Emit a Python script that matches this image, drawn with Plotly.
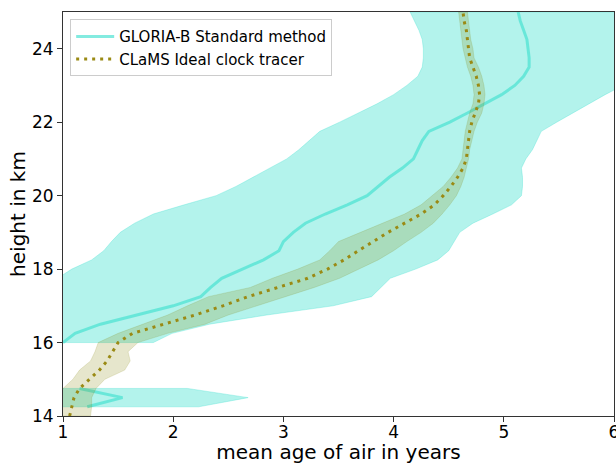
import plotly.graph_objects as go

# ---------------- data ----------------
# GLORIA-B standard method (lower isolated segment)
gloria_h_low = [14.25, 14.5, 14.75]
gloria_mean_low = [1.22, 1.54, 1.15]
gloria_left_low = [0.70, 0.50, 0.70]
gloria_right_low = [2.23, 2.68, 2.13]

# GLORIA-B standard method (main segment)
gloria_h = [16.0, 16.25, 16.5, 16.75, 17.0, 17.25, 17.5, 17.75, 18.0, 18.25, 18.5, 18.75,
            19.0, 19.25, 19.5, 19.75, 20.0, 20.25, 20.5, 20.75, 21.0, 21.25, 21.5, 21.75,
            22.0, 22.25, 22.5, 22.75, 23.0, 23.25, 23.5, 23.75, 24.0, 24.25, 24.5, 24.75, 25.0]
gloria_mean = [1.00, 1.11, 1.34, 1.68, 2.00, 2.25, 2.34, 2.44, 2.63, 2.82, 2.96, 3.00,
               3.09, 3.20, 3.38, 3.58, 3.76, 3.86, 3.96, 4.08, 4.18, 4.22, 4.26, 4.32,
               4.51, 4.67, 4.83, 4.98, 5.10, 5.18, 5.23, 5.23, 5.22, 5.21, 5.18, 5.15, 5.13]
gloria_left = [0.60, 0.62, 0.65, 0.70, 0.75, 0.82, 0.88, 0.95, 1.08, 1.26, 1.37, 1.44,
               1.52, 1.65, 1.82, 2.10, 2.39, 2.57, 2.72, 2.88, 3.03, 3.14, 3.23, 3.33,
               3.51, 3.68, 3.85, 4.00, 4.12, 4.22, 4.26, 4.27, 4.27, 4.26, 4.23, 4.19, 4.15]
gloria_right = [1.82, 1.99, 2.33, 2.85, 3.45, 3.80, 3.88, 3.97, 4.20, 4.40, 4.50, 4.55,
                4.60, 4.72, 4.90, 5.07, 5.16, 5.17, 5.17, 5.16, 5.20, 5.26, 5.30, 5.34,
                5.48, 5.63, 5.77, 5.92, 6.08, 6.22, 6.35, 6.45, 6.55, 6.62, 6.68, 6.72, 6.75]

# CLaMS ideal clock tracer
clams_h = [14.0, 14.25, 14.5, 14.75, 15.0, 15.25, 15.5, 15.75, 16.0, 16.25, 16.5, 16.75,
           17.0, 17.25, 17.5, 17.75, 18.0, 18.25, 18.5, 18.75, 19.0, 19.25, 19.5, 19.75,
           20.0, 20.25, 20.5, 20.75, 21.0, 21.25, 21.5, 21.75, 22.0, 22.25, 22.5, 22.75,
           23.0, 23.25, 23.5, 23.75, 24.0, 24.25, 24.5, 24.75, 25.0]
clams_mean = [1.06, 1.08, 1.10, 1.15, 1.24, 1.33, 1.40, 1.45, 1.50, 1.63, 1.92, 2.20,
              2.45, 2.68, 2.95, 3.22, 3.40, 3.55, 3.68, 3.81, 3.95, 4.10, 4.25, 4.37,
              4.45, 4.52, 4.58, 4.63, 4.66, 4.67, 4.68, 4.69, 4.71, 4.74, 4.77, 4.78,
              4.77, 4.75, 4.72, 4.69, 4.68, 4.67, 4.66, 4.64, 4.63]
clams_left = [0.95, 0.96, 0.97, 1.00, 1.09, 1.15, 1.25, 1.29, 1.32, 1.50, 1.72, 1.95,
              2.13, 2.32, 2.70, 2.90, 3.13, 3.33, 3.42, 3.50, 3.70, 3.90, 4.10, 4.25,
              4.35, 4.45, 4.52, 4.58, 4.62, 4.63, 4.64, 4.65, 4.67, 4.69, 4.72, 4.73,
              4.72, 4.70, 4.67, 4.65, 4.63, 4.62, 4.61, 4.60, 4.59]
clams_right = [1.25, 1.26, 1.26, 1.30, 1.38, 1.56, 1.61, 1.59, 1.68, 1.95, 2.29, 2.50,
               2.75, 3.02, 3.28, 3.51, 3.68, 3.86, 4.00, 4.12, 4.25, 4.36, 4.44, 4.51,
               4.57, 4.61, 4.64, 4.66, 4.68, 4.69, 4.71, 4.73, 4.76, 4.80, 4.82, 4.83,
               4.82, 4.80, 4.77, 4.73, 4.72, 4.70, 4.69, 4.68, 4.67]

x_ticks = [1, 2, 3, 4, 5, 6]
y_ticks = [14, 16, 18, 20, 22, 24]

TURQ_FILL = "rgba(64,224,208,0.4)"
TURQ_LINE = "rgba(64,224,208,0.65)"
OLIVE_FILL = "rgba(128,128,0,0.2)"
OLIVE_LINE = "#9a8a14"


def band(left, right, h):
    xs = list(left) + list(right)[::-1] + [left[0]]
    ys = list(h) + list(h)[::-1] + [h[0]]
    return xs, ys


fig = go.Figure()

# GLORIA bands
for lft, rgt, hh in [(gloria_left_low, gloria_right_low, gloria_h_low),
                     (gloria_left, gloria_right, gloria_h)]:
    bx, by = band(lft, rgt, hh)
    fig.add_trace(go.Scatter(x=bx, y=by, mode="lines", fill="toself",
                             fillcolor=TURQ_FILL, line=dict(width=0.8, color="rgba(64,224,208,0.4)"),
                             showlegend=False, hoverinfo="skip"))

# GLORIA mean line (with gap)
g_x = gloria_mean_low + [None] + gloria_mean
g_y = gloria_h_low + [None] + gloria_h
fig.add_trace(go.Scatter(x=g_x, y=g_y, mode="lines", connectgaps=False,
                         line=dict(color=TURQ_LINE, width=3),
                         name="GLORIA-B Standard method"))

# CLaMS band
bx, by = band(clams_left, clams_right, clams_h)
fig.add_trace(go.Scatter(x=bx, y=by, mode="lines", fill="toself",
                         fillcolor=OLIVE_FILL, line=dict(width=0.8, color="rgba(128,128,0,0.2)"),
                         showlegend=False, hoverinfo="skip"))

# CLaMS line
fig.add_trace(go.Scatter(x=clams_mean, y=clams_h, mode="lines",
                         line=dict(color=OLIVE_LINE, width=3, dash="3px,5px"),
                         name="CLaMS Ideal clock tracer"))

axis_common = dict(showline=True, linecolor="#333333", linewidth=1, mirror=True,
                   ticks="outside", ticklen=5, tickwidth=1, tickcolor="#333333",
                   showgrid=False, zeroline=False, automargin=False,
                   ticklabeloverflow="allow",
                   tickfont=dict(family="DejaVu Sans", size=17, color="black"))

fig.update_xaxes(range=[1, 6], tickvals=x_ticks, ticktext=[str(v) for v in x_ticks],
                 ticklabelstandoff=-4,
                 title=dict(text="mean age of air in years", standoff=4,
                            font=dict(family="DejaVu Sans", size=20, color="black")),
                 **axis_common)
fig.update_yaxes(range=[14, 25], tickvals=y_ticks, ticktext=[str(v) for v in y_ticks],
                 title=dict(text="height in km", standoff=0,
                            font=dict(family="DejaVu Sans", size=20, color="black")),
                 **axis_common)

fig.update_layout(
    width=616, height=464,
    margin=dict(l=63, r=2, t=12, b=48),
    plot_bgcolor="white", paper_bgcolor="white",
    font=dict(family="DejaVu Sans", size=15, color="black"),
    legend=dict(x=0.013, y=0.982, xanchor="left", yanchor="top",
                bgcolor="rgba(255,255,255,0.8)", bordercolor="#cccccc", borderwidth=1,
                font=dict(family="DejaVu Sans", size=15, color="black"),
                tracegroupgap=0, itemwidth=38),
)

fig.write_html("out.html", config={"displayModeBar": False},
               post_script="document.body.style.margin='0';")
